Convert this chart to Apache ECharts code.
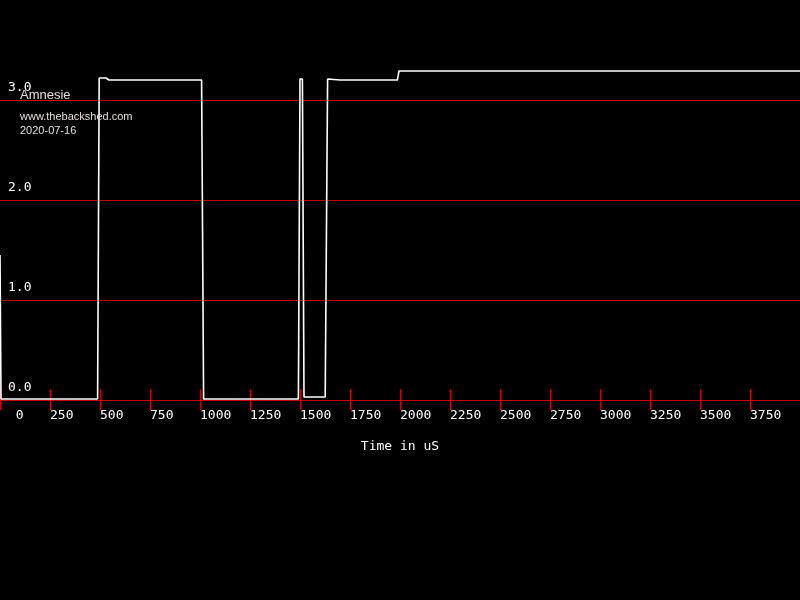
<!DOCTYPE html>
<html>
<head>
<meta charset="utf-8">
<script src="https://cdn.jsdelivr.net/npm/echarts@6/dist/echarts.min.js"></script>
<style>
html,body{margin:0;padding:0;background:#000;}
#chart{width:800px;height:600px;}
</style>
</head>
<body>
<div id="chart"></div>
<script>
// Time (uS) and voltage (V) samples of the captured trace
var timeUs = [0, 5, 488, 496, 530, 545, 1008, 1018, 1492, 1500, 1512, 1520, 1532, 1626, 1638, 1700, 1987, 1995, 4000];
var volts  = [1.45, 0.01, 0.01, 3.22, 3.22, 3.20, 3.20, 0.01, 0.01, 3.21, 3.21, 0.03, 0.03, 0.03, 3.21, 3.20, 3.20, 3.29, 3.29];
var xTicks = [0, 250, 500, 750, 1000, 1250, 1500, 1750, 2000, 2250, 2500, 2750, 3000, 3250, 3500, 3750];
var yTicks = [0.0, 1.0, 2.0, 3.0];
var titleText = 'Amnesie';
var subLines = ['www.thebackshed.com', '2020-07-16'];
var xName = 'Time in uS';

var RED = '#d00000';
var MONO = '"DejaVu Sans Mono", monospace';
var points = timeUs.map(function (t, i) { return [t, volts[i]]; });

var chart = echarts.init(document.getElementById('chart'));
chart.setOption({
  backgroundColor: '#000',
  animation: false,
  title: [
    { text: titleText, left: 20, top: 89, padding: 0,
      textStyle: { color: '#e4dcdc', fontFamily: '"Liberation Sans", Arial, sans-serif', fontSize: 13, fontWeight: 'normal' } },
    { text: subLines[0], left: 20, top: 111, padding: 0,
      textStyle: { color: '#e4dcdc', fontFamily: '"Liberation Sans", Arial, sans-serif', fontSize: 11, fontWeight: 'normal' } },
    { text: subLines[1], left: 20, top: 125, padding: 0,
      textStyle: { color: '#e4dcdc', fontFamily: '"Liberation Sans", Arial, sans-serif', fontSize: 11, fontWeight: 'normal' } }
  ],
  grid: { left: 0, right: 0, top: 0, bottom: 200, containLabel: false, outerBoundsMode: 'none' },
  xAxis: [
    {
      type: 'value', min: 0, max: 4000, interval: 250,
      name: xName, nameLocation: 'middle', nameGap: 40,
      nameTextStyle: { color: '#fff', fontFamily: MONO, fontSize: 13 },
      axisLine: { show: true, onZero: false, lineStyle: { color: RED, width: 1 } },
      axisTick: { show: true, inside: true, length: 11, lineStyle: { color: RED, width: 1 } },
      splitLine: { show: false },
      axisLabel: {
        show: true, color: '#fff', fontFamily: MONO, fontSize: 13, margin: 9,
        align: 'left', showMaxLabel: false,
        formatter: function (v) {
          if (xTicks.indexOf(v) < 0) return '';
          return v === 0 ? '  0' : String(v);
        }
      }
    },
    {
      type: 'value', min: 0, max: 4000, interval: 250, position: 'bottom', offset: 0,
      axisLine: { show: false },
      axisTick: { show: true, inside: false, length: 10, lineStyle: { color: RED, width: 1 } },
      axisLabel: { show: false },
      splitLine: { show: false }
    }
  ],
  yAxis: {
    type: 'value', min: 0, max: 4, interval: 1,
    axisLine: { show: false },
    axisTick: { show: false },
    splitLine: { show: true, lineStyle: { color: [RED, RED, RED, RED, 'rgba(0,0,0,0)'], width: 1 } },
    axisLabel: {
      show: true, inside: true, color: '#fff', fontFamily: MONO, fontSize: 13,
      margin: 8, verticalAlign: 'bottom', lineHeight: 13, padding: [0, 0, 6, 0],
      formatter: function (v) {
        return yTicks.indexOf(v) >= 0 ? v.toFixed(1) : '';
      }
    }
  },
  series: [{
    type: 'line',
    xAxisIndex: 0,
    data: points,
    showSymbol: false,
    symbol: 'none',
    clip: false,
    lineStyle: { color: '#ffffff', width: 1.6 },
    z: 5
  }]
});
</script>
</body>
</html>
